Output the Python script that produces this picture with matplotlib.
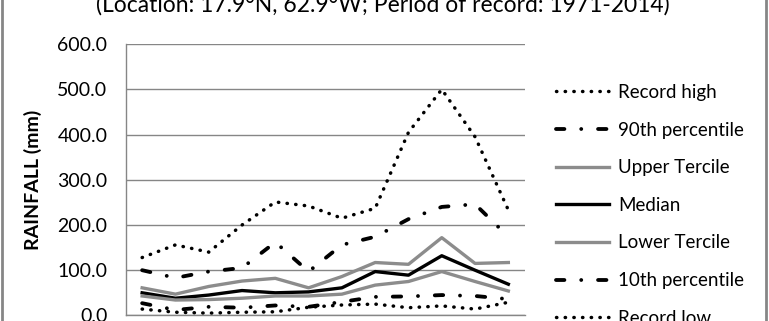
import matplotlib
matplotlib.use('Agg')
import matplotlib.pyplot as plt
from matplotlib.lines import Line2D

plt.rcParams['font.family'] = ['Lato', 'DejaVu Sans']

months = ['Jan', 'Feb', 'Mar', 'Apr', 'May', 'Jun',
          'Jul', 'Aug', 'Sep', 'Oct', 'Nov', 'Dec']

record_high = [128, 156, 140, 200, 251, 242, 215, 237, 405, 500, 395, 233]
pct90 = [100, 83, 97, 105, 162, 97, 156, 174, 213, 240, 246, 174]
upper_tercile = [61, 47, 64, 76, 82, 61, 86, 117, 113, 172, 115, 117]
median = [50, 38, 45, 55, 50, 52, 61, 97, 89, 132, 100, 69]
lower_tercile = [43, 34, 35, 38, 43, 43, 47, 67, 75, 97, 75, 54]
pct10 = [27, 12, 19, 17, 22, 19, 30, 41, 42, 45, 43, 36]
record_low = [14, 7, 5, 7, 8, 18, 23, 25, 17, 21, 14, 29]

title = '(Location: 17.9°N, 62.9°W; Period of record: 1971-2014)'

W, H = 769, 321
fig = plt.figure(figsize=(W / 100, H / 100), dpi=100)
ax = fig.add_axes([125.5 / W, (H - 315.4) / H, 399.5 / W, 271.2 / H])

grid_grey = '#868686'
line_grey = '#8c8c8c'
dotted = (0, (0.1, 2.4))
dashdot = (0, (2.2, 4.4, 0.01, 4.4))

x = list(range(len(months)))
ax.plot(x, record_high, color='black', lw=2.5, linestyle=dotted,
        dash_capstyle='round', label='Record high')
ax.plot(x, pct90, color='black', lw=2.75, linestyle=dashdot,
        dash_capstyle='round', label='90th percentile')
ax.plot(x, upper_tercile, color=line_grey, lw=2.4, label='Upper Tercile')
ax.plot(x, median, color='black', lw=2.4, label='Median')
ax.plot(x, lower_tercile, color=line_grey, lw=2.4, label='Lower Tercile')
ax.plot(x, pct10, color='black', lw=2.75, linestyle=dashdot,
        dash_capstyle='round', label='10th percentile')
ax.plot(x, record_low, color='black', lw=2.5, linestyle=dotted,
        dash_capstyle='round', label='Record low')

ax.set_xlim(-0.5, 11.5)
ax.set_ylim(0, 600)
ax.set_yticks(range(0, 601, 100))
ax.set_yticklabels(['%.1f' % v for v in range(0, 601, 100)], fontsize=14)
ax.tick_params(axis='y', length=0, pad=13)
ax.set_xticks([])
ax.yaxis.grid(True, color=grid_grey, lw=1)
ax.set_axisbelow(True)
for s in ['top', 'right']:
    ax.spines[s].set_visible(False)
for s in ['left', 'bottom']:
    ax.spines[s].set_color(grid_grey)
    ax.spines[s].set_linewidth(1)

ax.set_ylabel('RAINFALL (mm)', fontsize=14, fontweight='bold')
ax.yaxis.set_label_coords(-0.209, 0.5)

fig.legend(loc='upper left', bbox_to_anchor=(556 / W, 1 - 84 / H),
           frameon=False, fontsize=13.5, handlelength=2.85, handletextpad=0.45,
           labelspacing=1.1, borderpad=0, borderaxespad=0)

fig.text(0.498, 1 - 12 / H, title, ha='center', va='baseline', fontsize=16.5)

# chart-area border, only the sides show in the crop
fig.add_artist(Line2D([1.5 / W, 1.5 / W], [0, 1], color=grid_grey, lw=2))
fig.add_artist(Line2D([765.5 / W, 765.5 / W], [0, 1], color=grid_grey, lw=2))

fig.savefig('out.png', dpi=100)
